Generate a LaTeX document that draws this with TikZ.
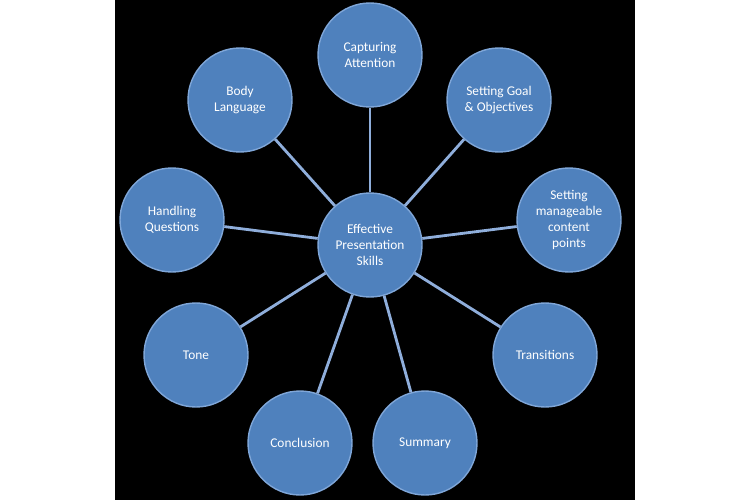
\documentclass[tikz,border=0pt]{standalone}
\usepackage{fontspec}
\setmainfont{Carlito}
\definecolor{topicfill}{HTML}{4F81BD}
\definecolor{topicedge}{HTML}{7FA6D8}
\definecolor{spoke}{HTML}{8FAEDB}
\tikzset{
  topic/.style={circle,fill=topicfill,draw=topicedge,line width=0.8pt,
    minimum size=2.08cm,inner sep=0pt,text=white,align=center,
    font=\fontsize{7.6}{9.2}\selectfont},
  spokeline/.style={draw=spoke,line width=1.6pt}
}
\begin{document}
\begin{tikzpicture}[x=0.02cm,y=-0.02cm]
    \useasboundingbox (0,0) rectangle (750,500);
    \fill[white] (0,0) rectangle (750,500);
    \fill[black] (115,0) rectangle (635,500);
    % hub and spokes
    \node[topic] (Hub) at (370,245) {Effective\\Presentation\\Skills};
    \foreach \name/\x/\y/\txt in {
        Capture/370/55/{Capturing\\Attention},
        Goal/499/100/{Setting Goal\\\& Objectives},
        Content/569/220/{Setting\\manageable\\content\\points},
        Trans/545/355/{Transitions},
        Summ/425/443/{Summary},
        Concl/300/443/{Conclusion},
        Tone/196/355/{Tone},
        Quest/172/220/{Handling\\Questions},
        Body/240/100/{Body\\Language}}{
      \node[topic] (\name) at (\x,\y) {\txt};
      \draw[spokeline] (Hub) -- (\name);
    }
\end{tikzpicture}
\end{document}
